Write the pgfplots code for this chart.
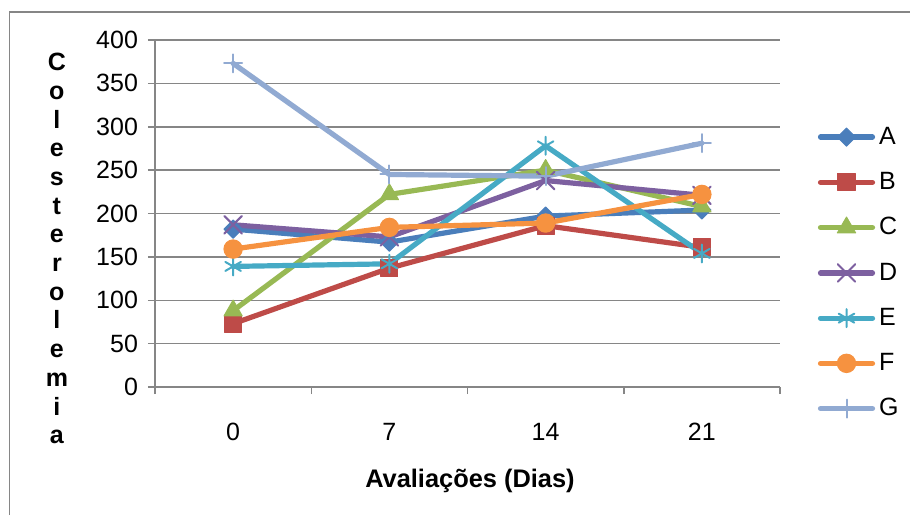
\documentclass[border=0pt]{standalone}
\usepackage{pgfplots}
\pgfplotsset{compat=1.18}
\usepackage{fontspec}
\setmainfont{Liberation Sans}

\definecolor{gridgray}{RGB}{134,134,134}
\definecolor{serA}{RGB}{74,126,187}
\definecolor{serB}{RGB}{190,75,72}
\definecolor{serC}{RGB}{152,185,84}
\definecolor{serD}{RGB}{125,96,160}
\definecolor{serE}{RGB}{70,170,197}
\definecolor{serF}{RGB}{246,146,64}
\definecolor{serG}{RGB}{145,170,210}

\begin{document}
\begin{tikzpicture}
% page: 455pt x 257.5pt (0.5pt per pixel)
\useasboundingbox (0pt,0pt) rectangle (455pt,257.5pt);
% outer chart frame
\draw[gridgray, line width=0.75pt] (4.75pt,0pt) -- (4.75pt,251.5pt) -- (460pt,251.5pt);

\begin{axis}[
  at={(77.5pt,64pt)}, anchor=south west,
  scale only axis,
  width=312.5pt, height=173.5pt,
  xmin=-0.5, xmax=3.5,
  ymin=0, ymax=400,
  xtick={0,1,2,3},
  xticklabels={0,7,14,21},
  minor xtick={-0.5,0.5,1.5,2.5,3.5},
  ytick={0,50,...,400},
  axis x line*=bottom,
  axis y line*=left,
  axis line style={gridgray, line width=0.75pt},
  tick align=outside,
  major tick length=3.5pt,
  minor tick length=3.5pt,
  major x tick style={draw=none},
  minor x tick style={gridgray, line width=0.75pt},
  major y tick style={gridgray, line width=0.75pt},
  ymajorgrids,
  major grid style={gridgray, line width=0.75pt},
  /pgf/number format/assume math mode=true,
  tick label style={font=\fontsize{12.5}{14}\selectfont, black},
  xticklabel style={yshift=-11pt},
  yticklabel style={xshift=-1.5pt},
  xlabel={Avaliações (Dias)},
  xlabel style={font=\bfseries\fontsize{12.7}{14}\selectfont,
    at={(axis description cs:0.504,-0.270)}, anchor=center},
  ylabel={C\\o\\l\\e\\s\\t\\e\\r\\o\\l\\e\\m\\i\\a},
  ylabel style={font=\bfseries\fontsize{12.5}{14.35}\selectfont, align=center,
    rotate=-90, at={(axis description cs:-0.157,0.399)}, anchor=center},
  every axis plot/.append style={line width=2.6pt, line join=round, line cap=round},
  legend image code/.code={%
    \draw[mark repeat=2,mark phase=2] plot coordinates {(0pt,0pt) (13pt,0pt) (26pt,0pt)};},
  legend style={at={(rel axis cs:1.06,0.762)}, anchor=north west,
    draw=none, fill=none, font=\fontsize{12.5}{14}\selectfont,
    row sep=8.5pt, inner sep=0pt,
    /tikz/every even column/.append style={column sep=1pt}},
  legend cell align=left,
  clip=false,
]
\addplot[serA, mark=square*, mark size=3.2pt, mark options={rotate=45, line width=0.5pt}]
  coordinates {(0,182) (1,167) (2,197) (3,204)};
\addlegendentry{A}
\addplot[serB, mark=square*, mark size=4.3pt, mark options={line width=0.5pt}]
  coordinates {(0,73) (1,137) (2,186) (3,161)};
\addlegendentry{B}
\addplot[serC, mark=triangle*, mark size=5.3pt, mark options={line width=0.5pt}]
  coordinates {(0,88) (1,222) (2,250) (3,208)};
\addlegendentry{C}
\addplot[serD, mark=x, mark size=6.2pt, mark options={line width=1pt}]
  coordinates {(0,187) (1,173) (2,238) (3,221)};
\addlegendentry{D}
\addplot[serE, mark=asterisk, mark size=4.5pt, mark options={line width=1pt}]
  coordinates {(0,139) (1,142) (2,278) (3,154)};
\addlegendentry{E}
\addplot[serF, mark=*, mark size=4.6pt, mark options={line width=0.5pt}]
  coordinates {(0,159) (1,184) (2,189) (3,222)};
\addlegendentry{F}
\addplot[serG, mark=+, mark size=4.5pt, mark options={line width=1pt}]
  coordinates {(0,373) (1,245) (2,243) (3,281)};
\addlegendentry{G}
\end{axis}
\end{tikzpicture}
\end{document}
